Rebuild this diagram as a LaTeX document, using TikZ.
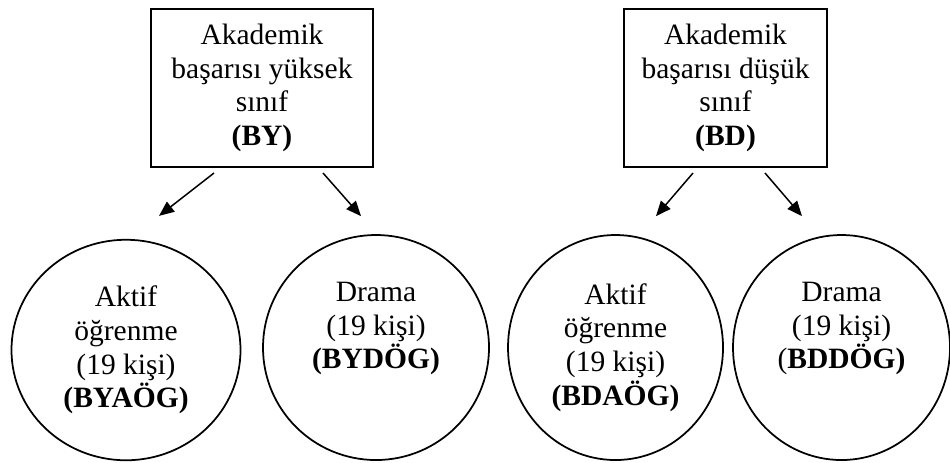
\documentclass[tikz,border=0pt]{standalone}
\usepackage{fontspec}
\setmainfont{Liberation Serif}
\usetikzlibrary{shapes.geometric,arrows.meta,positioning,calc}

\begin{document}
\begin{tikzpicture}[x=0.4pt, y=-0.4pt,
  sinif/.style={draw, line width=0.8pt, align=center, inner sep=2pt,
    minimum height=63.2pt, font=\fontsize{11.8}{13.5}\selectfont},
  grup/.style={ellipse, draw, line width=0.7pt, align=center, inner sep=1pt,
    font=\fontsize{11.8}{13.5}\selectfont},
  ok/.style={-{Triangle[length=6pt,width=5pt]}, line width=0.6pt}
]
\useasboundingbox (0,0) rectangle (950,462);

% ================= TOP: CLASS BOXES =================
\node[sinif, minimum width=88.8pt] (by) at (262,88)
  {Akademik\\başarısı yüksek\\sınıf\\\textbf{(BY)}};
\node[sinif, minimum width=81.2pt] (bd) at (725.5,88)
  {Akademik\\başarısı düşük\\sınıf\\\textbf{(BD)}};

% ================= BOTTOM: GROUPS =================
\node[grup, minimum width=91.6pt, minimum height=88.2pt] (bya) at (126,350)
  {Aktif\\öğrenme\\(19 kişi)\\\textbf{(BYAÖG)}};
\node[grup, minimum width=90.4pt, minimum height=90pt] (byd) at (376,347.5)
  {Drama\\(19 kişi)\\\textbf{(BYDÖG)}\\\strut};
\node[grup, minimum width=86pt, minimum height=90pt] (bda) at (615.5,347.5)
  {Aktif\\öğrenme\\(19 kişi)\\\textbf{(BDAÖG)}};
\node[grup, minimum width=86.8pt, minimum height=90pt] (bdd) at (841.5,347.5)
  {Drama\\(19 kişi)\\(\textbf{BDDÖG)}\\\strut};

% Arrows
\draw[ok] ($(by.south)+(-48,5)$) -- ($(bya.north)+(33,-23)$);
\draw[ok] ($(by.south)+(61,5)$) -- ($(byd.north)+(-15,-18)$);
\draw[ok] ($(bd.south)+(-32.5,5)$) -- ($(bda.north)+(40.5,-18)$);
\draw[ok] ($(bd.south)+(39.5,5)$) -- ($(bdd.north)+(-39.5,-18)$);

\end{tikzpicture}
\end{document}
